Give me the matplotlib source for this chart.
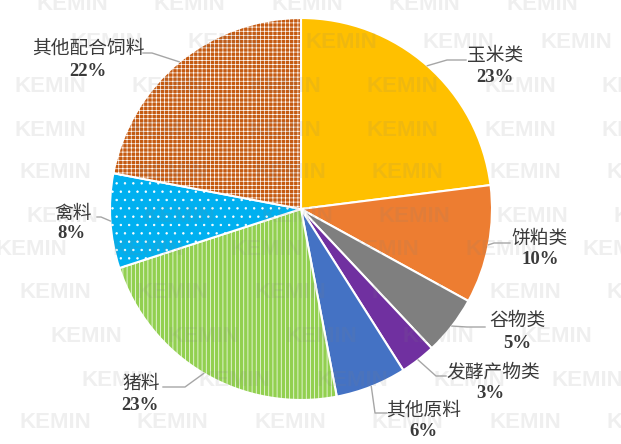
import numpy as np
import matplotlib
matplotlib.use("Agg")
import matplotlib.pyplot as plt

plt.rcParams['hatch.linewidth'] = 0.5

# Feed raw-material share (%)
categories = ["玉米类", "饼粕类", "谷物类", "发酵产物类", "其他原料", "猪料", "禽料", "其他配合饲料"]
shares = [23, 10, 5, 3, 6, 23, 8, 22]
pct_labels = ["23%", "10%", "5%", "3%", "6%", "23%", "8%", "22%"]

colors = ["#FFC000", "#ED7D31", "#7F7F7F", "#7030A0", "#4472C4", "#92D050", "#00B0F0", "#C55A11"]
hatches = [None, None, None, None, None, "||||", "..", "++++"]

# watermark rows: (row y, x of first tile)
wm_text = "KEMIN"
wm_rows = [(5, 72), (43, 106), (87, 50), (130, 50), (173, 55), (217, 62),
           (250, 31), (293, 55), (337, 86), (380, 117), (423, 55)]
wm_step = 117.5

W, H = 621, 444


def px(x, y):
    """Top-left pixel coordinates -> data coordinates."""
    return x, H - y


# label layout: name centre, percent centre, knee and end of leader line
layout = {
    "玉米类": ((495, 55), (495, 77), (447, 60), (466, 60)),
    "饼粕类": ((540, 238), (540, 260), (494, 243), (510, 243)),
    "谷物类": ((517, 320), (517, 343), (467, 327), (485, 327)),
    "发酵产物类": ((493, 372), (490, 394), (436, 376), (446, 376)),
    "其他原料": ((424, 410), (423, 432), (375, 413), (387, 413)),
    "猪料": ((141, 383), (140, 405), (185, 387), (163, 387)),
    "禽料": ((73, 213), (71, 234), (101, 217), (97, 217)),
    "其他配合饲料": ((88, 48), (88, 71), (152, 53), (143, 53)),
}

fig = plt.figure(figsize=(W / 100, H / 100), dpi=100)
ax = fig.add_axes([0, 0, 1, 1])

center = px(301, 209)
radius = 191
wedges, _ = ax.pie(shares, colors=colors, startangle=90, counterclock=False,
                   center=center, radius=radius, frame=True,
                   wedgeprops=dict(edgecolor="white", linewidth=1.5))
ax.set_xlim(0, W)
ax.set_ylim(0, H)
ax.set_aspect("equal")
ax.axis("off")

for w, h in zip(wedges, hatches):
    w.set_zorder(2)
    if h:
        w.set_hatch(h)

# faint watermark laid over the chart
for yy, x0 in wm_rows:
    xx = x0
    while xx < W + 40:
        ax.text(*px(xx, yy), wm_text, fontsize=16, fontweight="bold",
                color="#808080", alpha=0.12, ha="center", va="center",
                zorder=3, family="Liberation Sans", clip_on=True)
        xx += wm_step

txt_color = "#3a3a3a"
for w, name, pct in zip(wedges, categories, pct_labels):
    ang = np.deg2rad((w.theta1 + w.theta2) / 2)
    ex = center[0] + radius * np.cos(ang)
    ey = center[1] + radius * np.sin(ang)
    (nx, ny), (qx, qy), knee, end = layout[name]
    kx, ky = px(*knee)
    fx, fy = px(*end)
    ax.plot([ex, kx, fx], [ey, ky, fy], color="#a6a6a6", lw=1, zorder=4)
    ax.text(*px(nx, ny), name, fontsize=13.5, color=txt_color, ha="center",
            va="center", family=["Noto Sans CJK SC", "DejaVu Sans"], zorder=5)
    ax.text(*px(qx, qy), pct, fontsize=13.5, color=txt_color, ha="center",
            va="center", fontweight="bold", family="Liberation Serif", zorder=5)

fig.savefig("out.png", dpi=100, facecolor="white")
